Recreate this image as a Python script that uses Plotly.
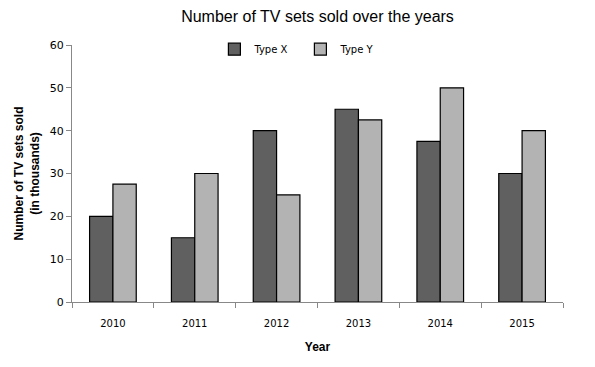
import plotly.graph_objects as go

years = ["2010", "2011", "2012", "2013", "2014", "2015"]
type_x = [20, 15, 40, 45, 37.5, 30]
type_y = [27.5, 30, 25, 42.5, 50, 40]
y_ticks = [0, 10, 20, 30, 40, 50, 60]

fig = go.Figure()
fig.add_trace(go.Bar(x=years, y=type_x, name="Type X",
                     marker=dict(color="#606060", line=dict(color="black", width=1.2))))
fig.add_trace(go.Bar(x=years, y=type_y, name="Type Y",
                     marker=dict(color="#b3b3b3", line=dict(color="black", width=1.2))))

fig.update_layout(
    width=595, height=367,
    margin=dict(l=64, r=40, t=37, b=73, autoexpand=False),
    paper_bgcolor="white", plot_bgcolor="white",
    barmode="group", bargap=0.43, bargroupgap=0,
    title=dict(text="Number of TV sets sold over the years", x=0.5, xref="paper", xanchor="center",
               y=1.0, yref="paper", yanchor="bottom", pad=dict(b=23),
               font=dict(family="Liberation Sans, Arial", size=16, color="black")),
    font=dict(family="DejaVu Sans, Tahoma", size=11, color="black"),
    legend=dict(orientation="h", x=0.29, xanchor="left", y=1.04, yanchor="top",
                bgcolor="rgba(0,0,0,0)", entrywidth=41, entrywidthmode="pixels",
                font=dict(family="DejaVu Sans, Tahoma", size=10), itemwidth=30),
    xaxis=dict(title=dict(text="<b>Year</b>", font=dict(family="Liberation Sans, Arial", size=12), standoff=14),
               showline=True, linecolor="#888888", linewidth=1, automargin=False,
               ticks="outside", tickson="boundaries", ticklen=5, tickcolor="#888888",
               ticklabelstandoff=12,
               tickfont=dict(size=10), showgrid=False),
    yaxis=dict(title=dict(text="<b>Number of TV sets sold<br>(in thousands)</b>",
                          font=dict(family="Liberation Sans, Arial", size=12), standoff=7),
               range=[0, 60], tickvals=y_ticks, showline=True, linecolor="#888888", linewidth=1,
               automargin=False,
               ticks="outside", ticklen=5, tickcolor="#888888", showgrid=False, zeroline=False,
               tickfont=dict(size=11)),
)

fig.write_html("out.html")
